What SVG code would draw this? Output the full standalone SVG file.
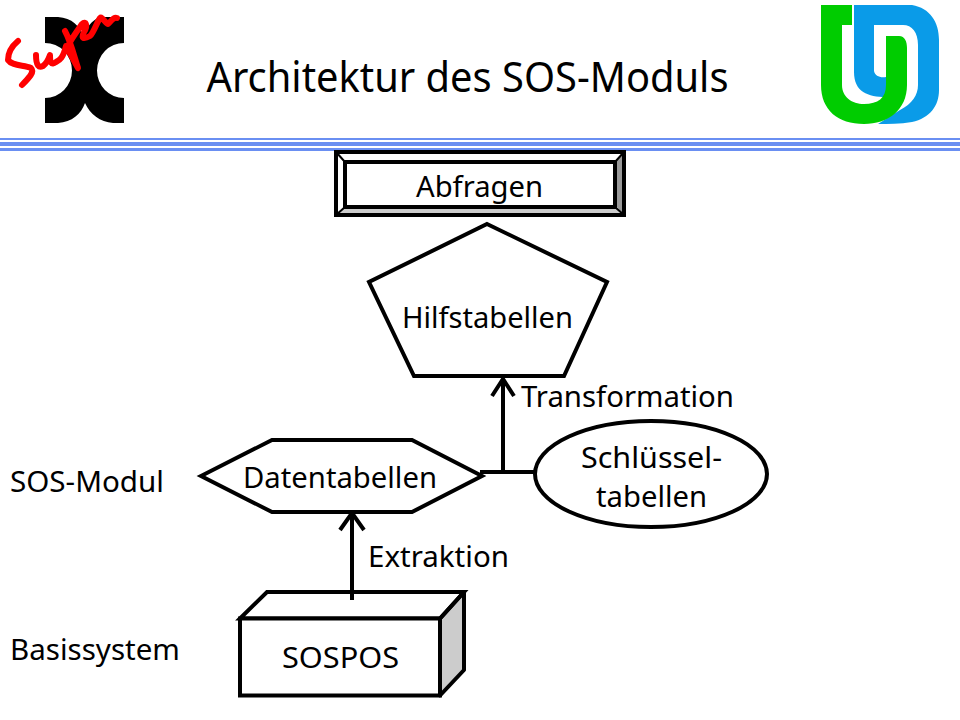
<svg xmlns="http://www.w3.org/2000/svg" width="960" height="720" viewBox="0 0 960 720">
<style>
text{font-family:"Noto Sans","DejaVu Sans",sans-serif;font-size:29.500px;fill:#000;text-anchor:middle}
.l{text-anchor:start}
.s{fill:#fff;stroke:#000;stroke-width:4;stroke-linejoin:miter}
.c{fill:none;stroke:#000;stroke-width:4}
.t{fill:#6a8ff2}
</style>
<rect width="960" height="720" fill="#fff"/>
<g id="logo-super">
<path fill="#000" d="M45 17H58C72 18 80 26 83 37C86 28 92 20 100 17H124V43A26.500 27 0 0 0 124 98V123H113C100 122 90 114 85 103C81 114 72 122 58 123H45V98A26.500 27 0 0 0 45 43Z"/>
<path fill="none" stroke="#f00" stroke-width="6" stroke-linecap="round" stroke-linejoin="round" d="M18 41C12 46 8 53 8 60C12 66 24 65 31 68C35 72 29 78 22 85M36 55C36 66 39 68 43 66C47 63 49 58 50 55C50 62 51 66 56 62C60 60 63 58 66 46L78 68C73 52 70 40 65 31M69 44C72 38 78 30 82 24C86 20 88 26 84 32C81 38 83 40 90 36C94 32 96 24 100 18C102 16 106 24 108 24C112 20 114 17 117 18"/>
</g>
<g id="logo-ud">
<path fill="#0a9be8" d="M854 5H912C930 8 939 22 939 40V90C939 106 930 118 912 122C900 124 888 124 878 124L900 110C912 104 918 95 918 85V45C918 32 912 25 903 25H874V71C875 76 880 78 886 77V97C868 97 854 92 854 72Z"/>
<path fill="#0c0" d="M821 5H852V25H842V85C842 97 852 104 864 104C878 104 886 98 886 85V36H899C905 36 907 42 907 48V85C907 110 888 124 864 124C838 124 821 110 821 85Z"/>
</g>
<rect class="t" x="0" y="138" width="960" height="2"/>
<rect class="t" x="0" y="142" width="960" height="4"/>
<rect class="t" x="0" y="148" width="960" height="3"/>
<text x="467.500" y="92" style="font-size:41px" textLength="522" lengthAdjust="spacingAndGlyphs">Architektur des SOS-Moduls</text>
<g id="connectors">
<path class="c" d="M352 600V513M340 530L352 513L364 530"/>
<path class="c" d="M503 472V379M492 396L503 379L514 396"/>
<path class="c" d="M480 472H537"/>
</g>
<g id="abfragen">
<rect x="336" y="152" width="288" height="63" fill="#fff" stroke="#000" stroke-width="4"/>
<path fill="#999" d="M617 160L624 152V215L617 207Z"/>
<path fill="#ccc" d="M345 207H615L624 215H336Z"/>
<rect x="336" y="152" width="288" height="63" fill="none" stroke="#000" stroke-width="4"/>
<rect x="345" y="162" width="270" height="45" fill="none" stroke="#000" stroke-width="4"/>
<path fill="none" stroke="#000" stroke-width="2" d="M336 152L345 162M624 152L615 162M336 215L345 207M624 215L615 207"/>
<text x="479.500" y="197" textLength="127" lengthAdjust="spacingAndGlyphs">Abfragen</text>
</g>
<g id="hilfstabellen">
<polygon class="s" points="487,224 607,282 564,376 414,376 369,282"/>
<text x="487.500" y="328" textLength="171" lengthAdjust="spacingAndGlyphs">Hilfstabellen</text>
</g>
<g id="datentabellen">
<polygon class="s" points="201,476 272,440 412,440 482,476 412,512 272,512"/>
<text x="340" y="488" textLength="194" lengthAdjust="spacingAndGlyphs">Datentabellen</text>
</g>
<g id="schluesseltabellen">
<ellipse class="s" cx="651" cy="474" rx="116" ry="53"/>
<text x="651.500" y="468" textLength="141" lengthAdjust="spacingAndGlyphs">Schlüssel-</text>
<text x="651.500" y="507" textLength="111" lengthAdjust="spacingAndGlyphs">tabellen</text>
</g>
<g id="sospos">
<path d="M440 618.500L464 592V670L440 695.500Z" fill="#ccc" stroke="#000" stroke-width="4" stroke-linejoin="round"/>
<path d="M240 618.500L267 592H464L440 618.500Z" fill="none" stroke="#000" stroke-width="4"/>
<rect class="s" x="240" y="618.500" width="200" height="77"/>
<text x="340.500" y="668" textLength="117" lengthAdjust="spacingAndGlyphs">SOSPOS</text>
</g>
<path class="c" d="M352 592V600"/>
<text class="l" x="521" y="407" textLength="213" lengthAdjust="spacingAndGlyphs">Transformation</text>
<text class="l" x="368" y="567" textLength="141" lengthAdjust="spacingAndGlyphs">Extraktion</text>
<text class="l" x="10" y="492" textLength="154" lengthAdjust="spacingAndGlyphs">SOS-Modul</text>
<text class="l" x="10" y="660" textLength="170" lengthAdjust="spacingAndGlyphs">Basissystem</text>
</svg>
